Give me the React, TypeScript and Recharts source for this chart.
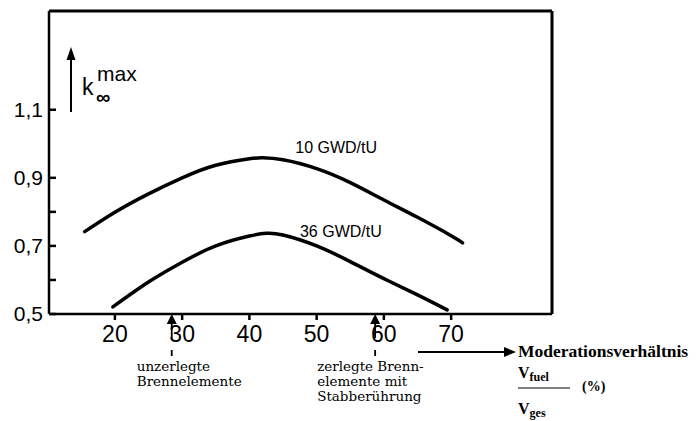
import { LineChart, Line, XAxis, YAxis, ReferenceLine, ReferenceDot } from "recharts";

// ---- data ----
const moderation10 = [15.5, 20, 25, 30, 35, 40, 42, 45, 50, 55, 60, 65, 70, 71.7];
const kmax10 = [0.742, 0.799, 0.853, 0.9, 0.937, 0.956, 0.959, 0.953, 0.927, 0.886, 0.835, 0.784, 0.73, 0.709];

const moderation36 = [19.7, 25, 30, 35, 40, 42.5, 45, 50, 55, 60, 65, 69.4];
const kmax36 = [0.521, 0.594, 0.652, 0.7, 0.729, 0.737, 0.732, 0.7, 0.654, 0.604, 0.556, 0.512];

const xTicks = [20, 30, 40, 50, 60, 70];
const yTicks = [0.5, 0.6, 0.7, 0.8, 0.9, 1.1];
const yLabelled = ["0.5", "0.7", "0.9", "1.1"];

const curveLabels = [
  { text: "10 GWD/tU", x: 52.9, y: 0.99 },
  { text: "36 GWD/tU", x: 53.6, y: 0.743 },
];
const markers = [
  { x: 28.45, textShift: -35, lines: ["unzerlegte", "Brennelemente"] },
  { x: 58.7, textShift: -58, lines: ["zerlegte Brenn-", "elemente mit", "Stabberührung"] },
];

const X_DOMAIN: [number, number] = [10.2, 85];
const Y_DOMAIN: [number, number] = [0.5, 1.39];

const W = 697;
const H = 421;
const PLOT = { left: 49, right: 552, top: 11, bottom: 314 };

const series10 = moderation10.map((v, i) => ({ v, k: kmax10[i] }));
const series36 = moderation36.map((v, i) => ({ v, k: kmax36[i] }));

const xPix = (v: number) =>
  PLOT.left + ((v - X_DOMAIN[0]) / (X_DOMAIN[1] - X_DOMAIN[0])) * (PLOT.right - PLOT.left);

const sans = "'Liberation Sans', Arial, sans-serif";
const slab = "'DejaVu Serif', serif";
const times = "'Liberation Serif', 'Times New Roman', serif";

export default function App() {
  return (
    <div style={{ position: "absolute", left: 0, top: 0, width: W, height: H, background: "#fff" }}>
      <LineChart
        width={W}
        height={H}
        margin={{ top: PLOT.top, right: W - PLOT.right, bottom: 0, left: 0 }}
        style={{ fontFamily: sans }}
      >
        <XAxis
          dataKey="v"
          type="number"
          domain={X_DOMAIN}
          allowDataOverflow
          ticks={xTicks}
          height={H - PLOT.bottom}
          axisLine={{ stroke: "#000", strokeWidth: 2.5 }}
          tickLine={{ stroke: "#000", strokeWidth: 2.5 }}
          tickSize={6}
          tickMargin={6}
          tick={{ fill: "#000", fontSize: 23, fontFamily: sans }}
        />
        <YAxis
          type="number"
          domain={Y_DOMAIN}
          allowDataOverflow
          ticks={yTicks}
          width={PLOT.left}
          axisLine={{ stroke: "#000", strokeWidth: 2.5 }}
          tickLine={{ stroke: "#000", strokeWidth: 2.5 }}
          tickSize={-7}
          tickMargin={13}
          tick={{ fill: "#000", fontSize: 21, fontFamily: sans }}
          tickFormatter={(v: number) =>
            yLabelled.includes(v.toFixed(1)) ? v.toFixed(1).replace(".", ",") : ""
          }
        />
        <ReferenceLine y={Y_DOMAIN[1]} stroke="#000" strokeWidth={3} ifOverflow="visible" />
        <ReferenceLine x={X_DOMAIN[1]} stroke="#000" strokeWidth={3} ifOverflow="visible" />
        <Line
          data={series10}
          dataKey="k"
          type="natural"
          stroke="#000"
          strokeWidth={3.5}
          strokeLinecap="round"
          dot={false}
          isAnimationActive={false}
        />
        <Line
          data={series36}
          dataKey="k"
          type="natural"
          stroke="#000"
          strokeWidth={3.5}
          strokeLinecap="round"
          dot={false}
          isAnimationActive={false}
        />
        {curveLabels.map((c) => (
          <ReferenceDot
            key={c.text}
            x={c.x}
            y={c.y}
            r={1}
            fill="none"
            stroke="none"
            label={{ value: c.text, position: "center", fontSize: 16, fill: "#000", fontFamily: sans }}
          />
        ))}
      </LineChart>

      <svg
        width={W}
        height={H}
        style={{ position: "absolute", left: 0, top: 0, pointerEvents: "none" }}
      >
        {/* y axis title with arrow */}
        <line x1={71} y1={112} x2={71} y2={56} stroke="#000" strokeWidth={2} />
        <polygon points="71,47 66.5,60 75.5,60" fill="#000" />
        <text x={82} y={95} fontSize={23} fontFamily={sans}>k</text>
        <text x={97} y={81} fontSize={21} fontFamily={sans}>max</text>
        <text x={96} y={104} fontSize={20} fontWeight="bold" fontFamily={sans}>∞</text>

        {/* markers below the x axis */}
        {markers.map((m) => {
          const x = xPix(m.x);
          return (
            <g key={m.x}>
              <polygon points={`${x},314 ${x - 5},324 ${x + 5},324`} fill="#000" />
              <line x1={x} y1={323} x2={x} y2={338} stroke="#000" strokeWidth={1.8} />
              <line x1={x} y1={350} x2={x} y2={356} stroke="#000" strokeWidth={1.8} />
              {m.lines.map((t, i) => (
                <text key={t} x={x + m.textShift} y={371 + i * 15} fontSize={13.5} fontFamily={slab}>
                  {t}
                </text>
              ))}
            </g>
          );
        })}

        {/* x axis title */}
        <line x1={418} y1={352} x2={506} y2={352} stroke="#000" strokeWidth={2} />
        <polygon points="516,352 504,347 504,357" fill="#000" />
        <text x={518} y={357} fontSize={17.5} fontWeight="bold" fontFamily={times}>Moderationsverhältnis</text>
        <text x={518} y={378} fontSize={16} fontWeight="bold" fontFamily={times}>
          V<tspan fontSize={12} dy={3}>fuel</tspan>
        </text>
        <line x1={518} y1={388} x2={570} y2={388} stroke="#000" strokeWidth={1.2} />
        <text x={582} y={391} fontSize={14} fontWeight="bold" fontFamily={times}>(%)</text>
        <text x={518} y={414} fontSize={16} fontWeight="bold" fontFamily={times}>
          V<tspan fontSize={12} dy={3}>ges</tspan>
        </text>
      </svg>
    </div>
  );
}
